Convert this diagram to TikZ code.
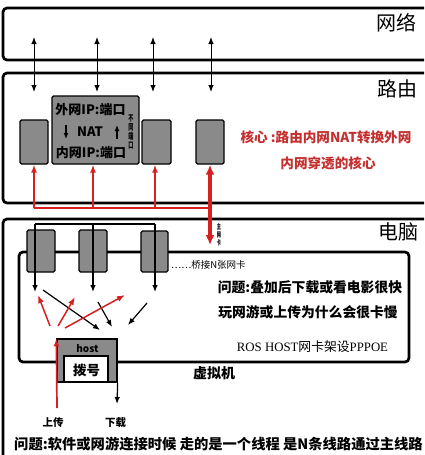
\documentclass[tikz,border=0pt]{standalone}
\usepackage{fontspec}
\usepackage{graphicx}
\setmainfont{Noto Sans CJK SC}
\newfontfamily\serifr{Liberation Serif}
\usetikzlibrary{arrows.meta}
\definecolor{boxgray}{RGB}{138,138,138}
\definecolor{myred}{RGB}{214,32,32}
\definecolor{txtred}{RGB}{196,48,48}
\newcommand{\fs}[1]{\fontsize{#1}{#1}\selectfont}
\newcommand{\nx}[1]{\scalebox{0.6}[1]{#1}}
\begin{document}
\begin{tikzpicture}[x=1pt,y=-1pt,
  frame/.style={line width=2.7pt, rounded corners=4pt},
  gbox/.style={draw=black, fill=boxgray, line width=1.4pt, rounded corners=1.5pt, inner sep=0pt},
  darr/.style={{Latex[length=7pt,width=5.5pt]}-{Latex[length=7pt,width=5.5pt]}, line width=1pt},
  rarr/.style={-{Latex[length=8pt,width=6pt]}, draw=myred, line width=1.5pt},
  barr/.style={-{Latex[length=7pt,width=5.5pt]}, line width=1.2pt},
  biglabel/.style={font=\fs{20}, inner sep=0pt},
  btxt/.style={font=\bfseries\fs{13.8}, inner sep=0pt},
  rtxt/.style={font=\bfseries\fs{13.6}, text=txtred, inner sep=0pt},
]
\useasboundingbox (0,0) rectangle (424,455);
\clip (0,0) rectangle (424,455);

% outer frames
\draw[frame] (3,8) rectangle (440,60);
\draw[frame] (3,73) rectangle (440,203);
\draw[frame] (3,219) rectangle (440,480);
\node[biglabel] (lnet) at (396,23) {网络};
\node[biglabel] (lrouter) at (397,89) {路由};
\node[biglabel] (lpc) at (398,232) {电脑};

% router boxes
\node[gbox, minimum width=28pt, minimum height=44pt] (r1) at (34,142) {};
\node[gbox, minimum width=87pt, minimum height=68pt] (nat) at (95.5,130) {};
\node[gbox, minimum width=29pt, minimum height=44pt] (r3) at (156.5,142) {};
\node[gbox, minimum width=28pt, minimum height=44pt] (r4) at (210,142) {};
\node[font=\bfseries\fs{13}, inner sep=0pt] (natA) at (90.5,110) {外网IP:端口};
\node[font=\bfseries\fs{13}, inner sep=0pt] (natB) at (90,132) {NAT};
\node[font=\bfseries\fs{13}, inner sep=0pt] (natC) at (91,153) {内网IP:端口};
\coordinate (na1) at (66,125); \coordinate (na2) at (66,139);
\coordinate (nb1) at (117,139); \coordinate (nb2) at (117,125);
\draw[-{Latex[length=6pt,width=5pt]}, line width=1.3pt] (na1) -- (na2);
\draw[-{Latex[length=6pt,width=5pt]}, line width=1.3pt] (nb1) -- (nb2);
\node[font=\bfseries\fontsize{8.5}{9.3}\selectfont, inner sep=0pt, align=center] (diffport) at (131,132)
  {\nx{不}\\\nx{同}\\\nx{端}\\\nx{口}};

\node[rtxt] (core1) at (326,137) {核心 :路由内网NAT转换外网};
\node[rtxt] (core2) at (328,163) {内网穿透的核心};

% network <-> router arrows
\foreach \i/\x in {1/34,2/97,3/153,4/211}{
  \coordinate (n\i) at (\x,37);
  \coordinate (rt\i) at (\x,92);
  \draw[darr] (n\i) -- (rt\i);
}

% red wiring in router
\coordinate (rb1) at (34,208);
\coordinate (rb2) at (93,208);
\coordinate (rb3) at (155,208);
\coordinate (rbj) at (210,208);
\coordinate (mainnic) at (210,245);
\draw[myred, line width=1.4pt] (rb1) -- (rbj);
\draw[rarr] (rb1) -- (r1.south);
\draw[rarr] (rb2) -- (rb2 |- nat.south);
\draw[rarr] (rb3) -- (rb3 |- r3.south);
\draw[myred, line width=3.2pt, {Latex[length=10pt,width=9pt]}-{Latex[length=10pt,width=9pt]}] (r4.south) -- (mainnic);
\node[font=\bfseries\fontsize{7}{8}\selectfont, inner sep=0pt, align=center] (nic) at (219,235)
  {\nx{主}\\\nx{网}\\\nx{卡}};

% virtual machine box
\draw[frame] (19,252) rectangle (409,362);
\node[gbox, minimum width=28pt, minimum height=42pt] (c1) at (41,251) {};
\node[gbox, minimum width=28pt, minimum height=42pt] (c2) at (93,251) {};
\node[gbox, minimum width=27pt, minimum height=41pt] (c3) at (154.5,251.5) {};
\node[anchor=west, font=\fs{9.5}, inner sep=0pt] (bridge) at (171,265) {……桥接N张网卡};

\coordinate (bt1) at (35,224); \coordinate (bt2) at (93,224); \coordinate (bt3) at (155,224);
\coordinate (ba1) at (35,292); \coordinate (ba2) at (93,292); \coordinate (ba3) at (155,292);
\draw[line width=1.2pt] (bt1) -- (bt3);
\draw[barr] (bt1) -- (ba1);
\draw[barr] (bt2) -- (ba2);
\draw[barr] (bt3) -- (ba3);

% crossing arrows
\coordinate (k1a) at (43,290); \coordinate (k1b) at (100,330);
\coordinate (k2a) at (98,302); \coordinate (k2b) at (112,327);
\coordinate (k3a) at (147,303); \coordinate (k3b) at (128,325);
\draw[barr] (k1a) -- (k1b);
\draw[barr] (k2a) -- (k2b);
\draw[barr] (k3a) -- (k3b);
\coordinate (q1a) at (50,326); \coordinate (q1b) at (38,295);
\coordinate (q2a) at (58,326); \coordinate (q2b) at (75,297);
\coordinate (q3a) at (65,328); \coordinate (q3b) at (125,295);
\draw[rarr] (q1a) -- (q1b);
\draw[rarr] (q2a) -- (q2b);
\draw[rarr] (q3a) -- (q3b);

\node[btxt] (qa) at (310,287) {问题:叠加后下载或看电影很快};
\node[btxt] (qb) at (308,312) {玩网游或上传为什么会很卡慢};
\node[font=\fs{12.8}, inner sep=0pt] (ros) at (312.5,347) {{\serifr ROS HOST}网卡架设{\serifr PPPOE}};
\node[font=\bfseries\fs{14}, inner sep=0pt] (vm) at (214,373) {虚拟机};

% host
\node[draw, fill=boxgray, line width=1.3pt, minimum width=60pt, minimum height=43pt, inner sep=0pt] (host) at (87,360.5) {};
\node[draw, fill=white, line width=1.3pt, minimum width=44pt, minimum height=26pt, inner sep=0pt] (dial) at (86,369) {};
\node[font=\bfseries\fs{13.5}, inner sep=0pt] (dialt) at (86.5,370) {拨号};
\node[font=\bfseries\fs{10}, inner sep=0pt, anchor=base] (hostt) at (87.5,352) {host};
\coordinate (up0) at (57,408);
\coordinate (dn0) at (117,404);
\draw[rarr, line width=1.7pt] (up0) -- (host.north west);
\draw[barr] (host.south east) -- (dn0);
\node[font=\bfseries\fs{10.5}, inner sep=0pt] (upl) at (53,423) {上传};
\node[font=\bfseries\fs{10.5}, inner sep=0pt] (dnl) at (115.5,423) {下载};

\node[font=\bfseries\fs{14.3}, inner sep=0pt] (bottom) at (218.5,444) {问题:软件或网游连接时候 走的是一个线程 是N条线路通过主线路};
\end{tikzpicture}
\end{document}
